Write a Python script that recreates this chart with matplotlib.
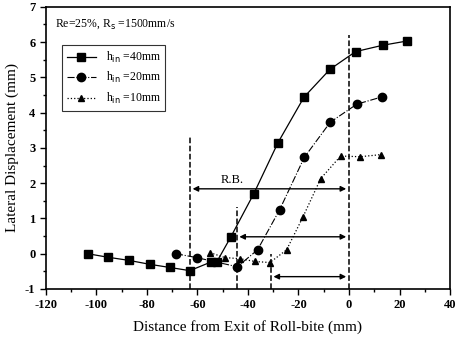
import matplotlib.pyplot as plt
from matplotlib.ticker import MultipleLocator

plt.rcParams['font.family'] = ['Liberation Serif', 'DejaVu Serif']
plt.rcParams['axes.unicode_minus'] = False

# datos
x40 = [-103.4, -95.4, -87.0, -78.9, -70.9, -63.0, -54.8, -52.4, -46.9, -37.7, -28.1, -17.8, -7.5, 2.6, 13.3, 22.9]
y40 = [0.0, -0.10, -0.19, -0.30, -0.39, -0.48, -0.24, -0.24, 0.46, 1.70, 3.15, 4.44, 5.23, 5.73, 5.91, 6.03]

x20 = [-68.5, -60.3, -44.2, -36.2, -27.5, -17.7, -7.4, 3.1, 13.2]
y20 = [0.0, -0.11, -0.37, 0.11, 1.24, 2.73, 3.73, 4.24, 4.45]

x10 = [-55.0, -49.1, -43.2, -37.2, -31.3, -24.7, -18.3, -11.2, -3.3, 4.4, 12.6]
y10 = [0.03, -0.11, -0.14, -0.22, -0.25, 0.11, 1.03, 2.13, 2.77, 2.75, 2.81]

# lineas verticales (x, altura superior) y flechas (x inicial, y)
vlines_x = [-63.0, -44.5, -31.0, 0.0]
vlines_top = [3.3, 1.33, 0.0, 6.2]
arrows_x = [-63.0, -44.5, -31.0]
arrows_y = [1.84, 0.48, -0.65]

fig = plt.figure(figsize=(4.63, 3.42), dpi=100)
ax = fig.add_axes([0.099, 0.155, 0.873, 0.825])

ax.plot(x40, y40, '-', color='black', lw=0.9, marker='s', ms=6, label=r'h$_{\rm in}$ =40mm')
ax.plot(x20, y20, '-.', color='black', lw=0.8, marker='o', ms=6, label=r'h$_{\rm in}$ =20mm')
ax.plot(x10, y10, ':', color='black', lw=0.9, marker='^', ms=4.5, label=r'h$_{\rm in}$ =10mm')

for xv, top in zip(vlines_x, vlines_top):
    ax.plot([xv, xv], [-1, top], '--', color='black', lw=1.1)

for xa, ya in zip(arrows_x, arrows_y):
    ax.annotate('', xy=(0, ya), xytext=(xa, ya),
                arrowprops=dict(arrowstyle='<|-|>', color='black', lw=1.0, mutation_scale=8))

ax.text(-46.3, 2.08, 'R.B.', fontsize=9, ha='center', va='center')
ax.text(0.022, 0.93, r'Re=25%, R$_{\rm s}$ =1500mm/s', transform=ax.transAxes, fontsize=8.5)

leg = ax.legend(loc='upper left', bbox_to_anchor=(0.025, 0.885), fontsize=8.5, frameon=True,
                fancybox=False, edgecolor='black', handlelength=2.5, borderpad=0.4,
                labelspacing=0.45)
leg.get_frame().set_linewidth(0.8)

ax.set_xlim(-120, 40)
ax.set_ylim(-1, 7)
ax.xaxis.set_major_locator(MultipleLocator(20))
ax.xaxis.set_minor_locator(MultipleLocator(10))
ax.yaxis.set_major_locator(MultipleLocator(1))
ax.yaxis.set_minor_locator(MultipleLocator(0.5))
ax.tick_params(direction='out', length=4, width=1, labelsize=9)
ax.tick_params(which='minor', direction='out', length=2.5, width=1)
for lab in ax.get_xticklabels() + ax.get_yticklabels():
    lab.set_fontweight('bold')
for s in ax.spines.values():
    s.set_linewidth(1.2)

ax.set_xlabel('Distance from Exit of Roll-bite (mm)', fontsize=11, labelpad=6)
ax.set_ylabel('Lateral Displacement (mm)', fontsize=11)

plt.savefig('out.png', dpi=100)
